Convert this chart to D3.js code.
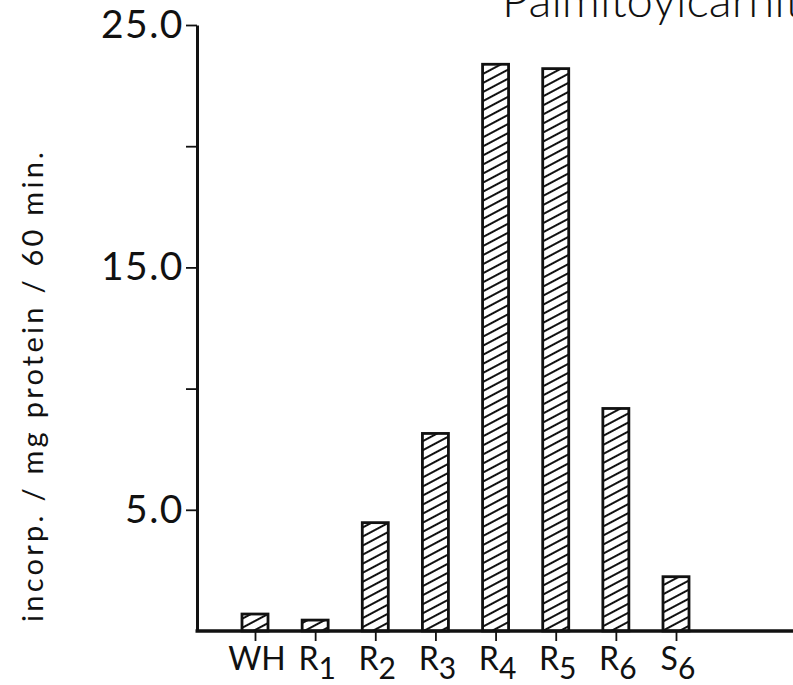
<!DOCTYPE html>
<html>
<head>
<meta charset="utf-8">
<script src="https://cdn.jsdelivr.net/npm/d3@7"></script>
<style>
  html, body { margin: 0; padding: 0; background: #fff; }
  svg { display: block; }
</style>
</head>
<body>
<svg id="chart" width="793" height="685"></svg>
<script>
// Fractions along the x axis and their incorporation rates
const categories = ["WH", "R1", "R2", "R3", "R4", "R5", "R6", "S6"];
const values = [0.7, 0.45, 4.47, 8.15, 23.38, 23.2, 9.18, 2.24];
const yTicks = [5, 10, 15, 20, 25];
const yLabeled = [5, 15, 25];
const titleText = "Palmitoylcarnitine";
const yTitle = "incorp. / mg protein  /  60 min.";

const svg = d3.select("#chart");
const W = 793, H = 685;

const y = d3.scaleLinear().domain([0, 25]).range([631, 25]);
const x = d3.scalePoint().domain(categories).range([255, 676]);
const axisX = 197;
const barW = 26;

// diagonal hatching for the bars
const defs = svg.append("defs");
defs.append("pattern")
  .attr("id", "hatch")
  .attr("patternUnits", "userSpaceOnUse")
  .attr("width", 8).attr("height", 8)
  .attr("patternTransform", "rotate(-28)")
  .append("line")
  .attr("x1", -1).attr("x2", 9)
  .attr("y1", 4).attr("y2", 4)
  .attr("stroke", "#111").attr("stroke-width", 2);

// bars
svg.append("g").selectAll("rect")
  .data(categories)
  .join("rect")
  .attr("x", (d) => x(d) - barW / 2)
  .attr("y", (d, i) => y(values[i]))
  .attr("width", barW)
  .attr("height", (d, i) => y(0) - y(values[i]))
  .attr("fill", "url(#hatch)")
  .attr("stroke", "#111")
  .attr("stroke-width", 2.8);

// y axis
const yAxis = d3.axisLeft(y)
  .tickValues(yTicks)
  .tickSize(11)
  .tickSizeOuter(0)
  .tickPadding(2)
  .tickFormat((d) => yLabeled.includes(d) ? d3.format(".1f")(d) : "");
const gy = svg.append("g").attr("transform", `translate(${axisX},0)`).call(yAxis);
gy.select(".domain").attr("stroke", "#111").attr("stroke-width", 3);
gy.selectAll(".tick line").attr("stroke", "#111").attr("stroke-width", 1.8);
gy.selectAll(".tick text")
  .attr("font-family", "Lato, 'Open Sans', sans-serif")
  .attr("font-size", 39)
  .attr("letter-spacing", 1.5)
  .attr("fill", "#111");

// x axis baseline across to the edge
svg.append("line")
  .attr("x1", axisX - 1.5).attr("x2", W)
  .attr("y1", y(0)).attr("y2", y(0))
  .attr("stroke", "#111").attr("stroke-width", 3.5);

// x ticks and labels with subscripts
const xAxis = d3.axisBottom(x).tickSize(10).tickSizeOuter(0).tickFormat("");
const gx = svg.append("g").attr("transform", `translate(0,${y(0)})`).call(xAxis);
gx.select(".domain").remove();
gx.selectAll(".tick line").attr("stroke", "#111").attr("stroke-width", 1.8);

const labels = svg.append("g")
  .attr("font-family", "Lato, 'Open Sans', sans-serif")
  .attr("fill", "#111");
categories.forEach((c) => {
  const m = c.match(/^([A-Z]+)(\d*)$/);
  const t = labels.append("text")
    .attr("x", x(c) + 2)
    .attr("y", 670)
    .attr("text-anchor", "middle")
    .attr("font-size", 32);
  t.append("tspan").text(m[1]);
  if (m[2]) {
    t.append("tspan").attr("dy", 9).attr("font-size", 30).text(m[2]);
  }
});

// y axis title
svg.append("text")
  .attr("transform", "translate(43,387) rotate(-90)")
  .attr("text-anchor", "middle")
  .attr("font-family", "Lato, 'Open Sans', sans-serif")
  .attr("font-size", 29)
  .attr("textLength", 470)
  .attr("lengthAdjust", "spacing")
  .attr("fill", "#111")
  .text(yTitle);

// title, running off the top-right edge
const title = svg.append("text")
  .attr("x", 502)
  .attr("y", 17)
  .attr("font-family", "Lato, 'Liberation Sans', sans-serif")
  .attr("font-weight", 300)
  .attr("font-size", 40)
  .attr("fill", "#111")
  .text(titleText.slice(0, 14));
const fitted = 40 * 283 / title.node().getComputedTextLength();
title.attr("font-size", fitted).text(titleText);
</script>
</body>
</html>
